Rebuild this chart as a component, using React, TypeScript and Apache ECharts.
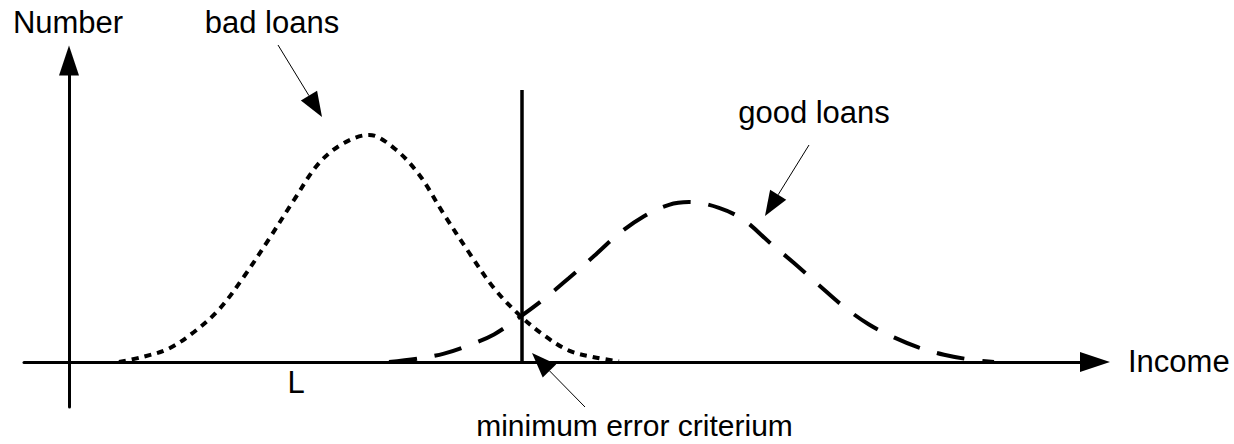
import React, { useEffect, useRef } from "react";
import * as echarts from "echarts";

// Income values (arbitrary units) and frequency for the two loan populations
const badIncome = [5, 7.5, 10, 12.5, 15, 17.5, 20, 22.5, 25, 27.5, 30, 32.5, 35, 37.5, 40, 42.5, 45, 47.5, 50, 52.5, 55];
const badCount = [0, 1.8, 4.5, 10, 17.5, 28.5, 41, 54, 66.3, 73, 75.7, 71.3, 62.5, 49.2, 36.5, 24.6, 15.8, 8.9, 3.8, 1.6, 0.2];

const goodIncome = [32, 35, 37.5, 40, 42.5, 45, 47.5, 50, 52.5, 55, 57.5, 60, 62, 65, 67.5, 70, 72.5, 75, 77.5, 80, 82.5, 85, 87.5, 90, 92.5];
const goodCount = [0, 1.2, 2.8, 5.6, 9.2, 14.8, 21, 28, 35.3, 42.8, 48.6, 52.4, 53.3, 51.4, 47.3, 40, 33, 25.6, 18.4, 12.5, 8.2, 4.8, 2.4, 0.9, 0];

// Decision threshold (minimum error criterium)
const criterionIncome = [45.3, 45.3];
const criterionCount = [0, 90.7];

// Axis extents
const incomeRange = [-4.5, 102.6];
const countRange = [-15, 100.5];

const FONT = "'Liberation Sans', Arial, Helvetica, sans-serif";
const FONT_SIZE = 31;

const zip = (xs: number[], ys: number[]) => xs.map((x, i) => [x, ys[i]]);

function label(text: string, x: number, y: number, align = "center", size = FONT_SIZE) {
  return {
    type: "text",
    x,
    y,
    silent: true,
    style: {
      text,
      fill: "#000",
      fontSize: size,
      fontFamily: FONT,
      lineHeight: 28,
      align,
      verticalAlign: "middle",
    },
  };
}

function pointer(from: [number, number], tip: [number, number]) {
  const dx = tip[0] - from[0];
  const dy = tip[1] - from[1];
  const len = Math.hypot(dx, dy);
  const ux = dx / len;
  const uy = dy / len;
  const headLen = 25;
  const headHalf = 9.5;
  const bx = tip[0] - ux * headLen;
  const by = tip[1] - uy * headLen;
  return [
    {
      type: "line",
      silent: true,
      shape: { x1: from[0], y1: from[1], x2: bx, y2: by },
      style: { stroke: "#000", lineWidth: 1 },
    },
    {
      type: "polygon",
      silent: true,
      shape: {
        points: [
          tip,
          [bx - uy * headHalf, by + ux * headHalf],
          [bx + uy * headHalf, by - ux * headHalf],
        ],
      },
      style: { fill: "#000" },
    },
  ];
}

export default function App() {
  const ref = useRef<HTMLDivElement>(null);

  useEffect(() => {
    if (!ref.current) return;
    const chart = echarts.init(ref.current, null, { renderer: "svg" });

    const hiddenAxisParts = {
      axisTick: { show: false },
      axisLabel: { show: false },
      splitLine: { show: false },
    };

    chart.setOption({
      animation: false,
      backgroundColor: "#fff",
      grid: { left: 24, right: 139, top: 60.5, bottom: 37, containLabel: false, outerBoundsMode: "none" },
      xAxis: {
        type: "value",
        min: incomeRange[0],
        max: incomeRange[1],
        axisLine: {
          onZero: true,
          symbol: ["none", "triangle"],
          symbolSize: [20, 30],
          lineStyle: { color: "#000", width: 3 },
        },
        ...hiddenAxisParts,
      },
      yAxis: {
        type: "value",
        min: countRange[0],
        max: countRange[1],
        axisLine: {
          show: true,
          onZero: true,
          symbol: ["none", "triangle"],
          symbolSize: [20, 30],
          lineStyle: { color: "#000", width: 3 },
        },
        ...hiddenAxisParts,
      },
      series: [
        {
          name: "bad loans",
          type: "line",
          data: zip(badIncome, badCount),
          smooth: 0.35,
          showSymbol: false,
          silent: true,
          lineStyle: { color: "#000", width: 4, type: [7, 6] },
        },
        {
          name: "good loans",
          type: "line",
          data: zip(goodIncome, goodCount),
          smooth: 0.35,
          showSymbol: false,
          silent: true,
          lineStyle: { color: "#000", width: 4, type: [28, 18] },
        },
        {
          name: "minimum error criterium",
          type: "line",
          data: zip(criterionIncome, criterionCount),
          showSymbol: false,
          silent: true,
          lineStyle: { color: "#000", width: 3.5, type: "solid" },
        },
      ],
      graphic: [
        label("Number", 68, 22.5),
        label("Income", 1128, 361.5, "left"),
        label("bad loans", 272, 22.5),
        label("good loans", 814, 112.5),
        label("L", 296, 382.5),
        label("minimum error criterium", 634.5, 425, "center", 30),
        ...pointer([278, 45], [322, 117]),
        ...pointer([809, 145], [765, 216]),
        ...pointer([585, 407], [532, 353]),
      ],
    });

    return () => chart.dispose();
  }, []);

  return (
    <div
      ref={ref}
      style={{ position: "fixed", left: 0, top: 0, width: 1234, height: 444, background: "#fff" }}
    />
  );
}
